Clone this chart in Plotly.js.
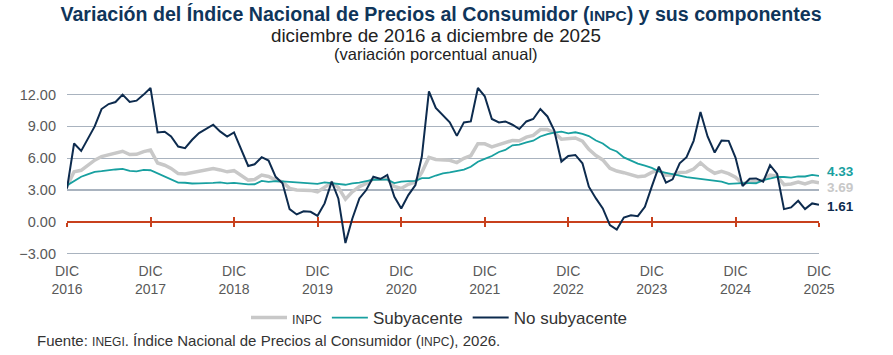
<!DOCTYPE html>
<html>
<head>
<meta charset="utf-8">
<script src="https://cdn.plot.ly/plotly-3.0.1.min.js"></script>
<style>
html,body{margin:0;padding:0;background:#fff;}
#chart{width:893px;height:355px;}
</style>
</head>
<body>
<div id="chart"></div>
<script>
// ---- Data (annual % change), monthly from Dec 2016 to Dec 2025 ----
const startYear = 2016;
const startMonth = 12;
const seriesNames = ['INPC', 'Subyacente', 'No subyacente'];
const yearLabels = ['2016','2017','2018','2019','2020','2021','2022','2023','2024','2025'];
const monthLabel = 'DIC';
const yTicks = [-3, 0, 3, 6, 9, 12];

const inpc = [3.36,
  4.72, 4.86, 5.35, 5.82, 6.16, 6.31, 6.44, 6.66, 6.35, 6.37, 6.63, 6.77,
  5.55, 5.34, 5.04, 4.55, 4.51, 4.65, 4.81, 4.90, 5.02, 4.90, 4.72, 4.83,
  4.37, 3.94, 4.00, 4.41, 4.28, 3.95, 3.78, 3.16, 3.00, 3.02, 2.97, 2.83,
  3.24, 3.70, 3.25, 2.15, 2.84, 3.33, 3.62, 4.05, 4.01, 4.09, 3.33, 3.15,
  3.54, 3.76, 4.67, 6.08, 5.89, 5.88, 5.81, 5.59, 6.00, 6.24, 7.37, 7.36,
  7.07, 7.28, 7.45, 7.68, 7.65, 7.99, 8.15, 8.70, 8.70, 8.41, 7.80, 7.82,
  7.91, 7.62, 6.85, 6.25, 5.84, 5.06, 4.79, 4.64, 4.45, 4.26, 4.32, 4.66,
  4.88, 4.40, 4.42, 4.65, 4.69, 4.98, 5.57, 4.99, 4.58, 4.76, 4.55, 4.21,
  3.59, 3.77, 3.80, 3.93, 4.42, 4.32, 3.51, 3.57, 3.76, 3.57, 3.80, 3.69];

const subyacente = [3.44,
  3.83, 4.26, 4.48, 4.72, 4.78, 4.83, 4.94, 5.00, 4.80, 4.77, 4.90, 4.87,
  4.56, 4.27, 4.02, 3.71, 3.69, 3.62, 3.63, 3.63, 3.67, 3.73, 3.63, 3.68,
  3.60, 3.54, 3.55, 3.87, 3.77, 3.85, 3.82, 3.78, 3.75, 3.68, 3.65, 3.59,
  3.73, 3.66, 3.60, 3.50, 3.64, 3.71, 3.85, 3.97, 3.99, 3.98, 3.66, 3.80,
  3.84, 3.87, 4.12, 4.13, 4.37, 4.58, 4.66, 4.78, 4.92, 5.19, 5.67, 5.94,
  6.21, 6.59, 6.78, 7.22, 7.28, 7.49, 7.65, 8.05, 8.28, 8.42, 8.51, 8.35,
  8.45, 8.29, 8.09, 7.67, 7.39, 6.89, 6.64, 6.08, 5.76, 5.50, 5.30, 5.09,
  4.76, 4.64, 4.55, 4.37, 4.21, 4.13, 4.05, 4.00, 3.91, 3.80, 3.58, 3.65,
  3.66, 3.65, 3.64, 3.93, 4.06, 4.24, 4.23, 4.18, 4.28, 4.28, 4.43, 4.33];

const noSubyacente = [3.13,
  7.39, 6.69, 7.85, 9.00, 10.64, 11.11, 11.30, 12.00, 11.30, 11.43, 12.00, 12.63,
  8.43, 8.50, 8.05, 7.10, 6.95, 7.74, 8.37, 8.78, 9.16, 8.53, 8.05, 8.43,
  6.80, 5.27, 5.43, 6.10, 5.78, 4.25, 3.65, 1.20, 0.70, 1.00, 0.95, 0.57,
  1.74, 3.79, 2.21, -1.99, 0.30, 2.21, 3.00, 4.26, 4.04, 4.42, 2.37, 1.27,
  2.53, 3.47, 6.16, 12.30, 10.74, 10.00, 9.38, 8.11, 9.38, 9.47, 12.63, 11.84,
  9.70, 9.38, 9.47, 9.16, 8.75, 9.47, 9.70, 10.64, 9.94, 8.60, 5.68, 6.22,
  6.31, 5.53, 3.32, 2.21, 1.27, -0.31, -0.72, 0.41, 0.63, 0.54, 1.42, 3.32,
  5.21, 3.70, 4.01, 5.53, 6.10, 7.64, 10.36, 8.05, 6.54, 7.67, 7.64, 6.06,
  3.38, 4.07, 4.10, 3.79, 5.34, 4.52, 1.20, 1.36, 1.99, 1.20, 1.74, 1.61];

// ---- Styling ----
const FONT = '"Liberation Sans", Arial, "Helvetica Neue", sans-serif';
const C_INPC = '#C8C8C8', C_SUB = '#18A0A0', C_NOSUB = '#0D2B4E';
const C_TITLE = '#0F355A', C_TEXT = '#595959', C_GRID = '#A9B3BF', C_ZERO = '#C8401C';

// x dates
const xDates = [];
for (let i = 0; i < inpc.length; i++) {
  const m0 = (startMonth - 1 + i);
  const y = startYear + Math.floor(m0 / 12);
  const m = (m0 % 12) + 1;
  xDates.push(y + '-' + String(m).padStart(2, '0') + '-01');
}
const tickVals = yearLabels.map(y => y + '-12-01');
const tickText = yearLabels.map(y => monthLabel + '<br>' + y);

const W = 893, H = 355;
const ml = 66.7, mr = W - 819;
const yr = [-3.5, 13];
const mt = 84.4, mb = H - 258.7;
const plotW = W - ml - mr, plotH = H - mt - mb;
const pxX = px => (px - ml) / plotW;
const pxY = py => (H - mb - py) / plotH;

const last = a => a[a.length - 1];
const xRange = [xDates[0], last(xDates)];

const traces = [
  {x: xDates, y: inpc, name: '<span style="font-size:12.5px">INPC</span>', mode: 'lines',
   line: {color: C_INPC, width: 3.5}, hoverinfo: 'skip'},
  {x: xDates, y: subyacente, name: 'Subyacente', mode: 'lines',
   line: {color: C_SUB, width: 1.8}, hoverinfo: 'skip'},
  {x: xDates, y: noSubyacente, name: 'No subyacente', mode: 'lines',
   line: {color: C_NOSUB, width: 2}, hoverinfo: 'skip'},
  {x: [xDates[0]], y: [0], xaxis: 'x2', mode: 'lines', showlegend: false, hoverinfo: 'skip'},
  {x: [xDates[0]], y: [0], xaxis: 'x3', mode: 'lines', showlegend: false, hoverinfo: 'skip'}
];

const zeroPos = (0 - yr[0]) / (yr[1] - yr[0]);
const zeroAxis = (dir) => ({
  type: 'date', range: xRange, overlaying: 'x', anchor: 'free', position: zeroPos,
  showline: true, linecolor: C_ZERO, linewidth: 2, ticks: dir, ticklen: 4, tickwidth: 2,
  tickcolor: C_ZERO, tickvals: tickVals, showticklabels: false, showgrid: false, zeroline: false,
  layer: 'below traces', fixedrange: true
});

const layout = {
  width: W, height: H,
  margin: {l: ml, r: mr, t: mt, b: mb, pad: 0},
  paper_bgcolor: '#fff', plot_bgcolor: '#fff',
  font: {family: FONT, color: C_TEXT, size: 14},
  showlegend: true,
  title: {
    text: 'Variación del Índice Nacional de Precios al Consumidor (<span style="font-size:15.5px">INPC</span>) y sus componentes',
    font: {family: FONT, size: 19.6, color: C_TITLE, weight: 'bold'},
    x: 441 / W, xref: 'container', xanchor: 'center',
    y: 1 - 14 / H, yref: 'container', yanchor: 'middle'
  },
  xaxis: {
    type: 'date', range: xRange, tickvals: tickVals, ticktext: tickText,
    showgrid: false, zeroline: false, showline: false, ticks: '', ticklabelstandoff: 2,
    tickfont: {family: FONT, size: 14, color: C_TEXT}, fixedrange: true
  },
  xaxis2: zeroAxis('outside'),
  xaxis3: zeroAxis('inside'),
  yaxis: {
    range: yr, tickvals: yTicks, tickformat: '.2f', showgrid: true, gridcolor: C_GRID,
    gridwidth: 1.3, zeroline: false, showline: false, ticks: '', ticklabelstandoff: 10,
    tickfont: {family: FONT, size: 14.5, color: C_TEXT}, fixedrange: true
  },
  legend: {
    orientation: 'h', xref: 'container', yref: 'container',
    x: 439.5 / W, xanchor: 'center', y: 1 - 318 / H, yanchor: 'middle',
    font: {family: FONT, size: 17, color: '#333'}, itemwidth: 36, tracegroupgap: 0
  },
  annotations: [
    {text: 'diciembre de 2016 a diciembre de 2025', xref: 'paper', yref: 'paper',
     x: pxX(436), y: pxY(36), xanchor: 'center', yanchor: 'middle', showarrow: false,
     font: {family: FONT, size: 18.8, color: '#222'}},
    {text: '(variación porcentual anual)', xref: 'paper', yref: 'paper',
     x: pxX(436), y: pxY(55), xanchor: 'center', yanchor: 'middle', showarrow: false,
     font: {family: FONT, size: 16.5, color: '#222'}},
    {text: 'Fuente: <span style="font-size:12px">INEGI</span>. Índice Nacional de Precios al Consumidor (<span style="font-size:12px">INPC</span>), 2026.',
     xref: 'paper', yref: 'paper', x: pxX(35), y: pxY(340), xanchor: 'left', yanchor: 'middle',
     showarrow: false, font: {family: FONT, size: 15, color: '#333'}},
    {text: '<b>' + last(subyacente).toFixed(2) + '</b>', xref: 'x', yref: 'y', x: last(xDates), y: last(subyacente),
     xanchor: 'left', yanchor: 'middle', xshift: 6, yshift: 4, showarrow: false,
     font: {family: FONT, size: 13.5, color: C_SUB}},
    {text: '<b>' + last(inpc).toFixed(2) + '</b>', xref: 'x', yref: 'y', x: last(xDates), y: last(inpc),
     xanchor: 'left', yanchor: 'middle', xshift: 6, yshift: -5, showarrow: false,
     font: {family: FONT, size: 13.5, color: C_INPC}},
    {text: '<b>' + last(noSubyacente).toFixed(2) + '</b>', xref: 'x', yref: 'y', x: last(xDates), y: last(noSubyacente),
     xanchor: 'left', yanchor: 'middle', xshift: 6, yshift: -2, showarrow: false,
     font: {family: FONT, size: 13.5, color: C_NOSUB}}
  ]
};

Plotly.newPlot('chart', traces, layout, {staticPlot: true, displayModeBar: false});
</script>
</body>
</html>
